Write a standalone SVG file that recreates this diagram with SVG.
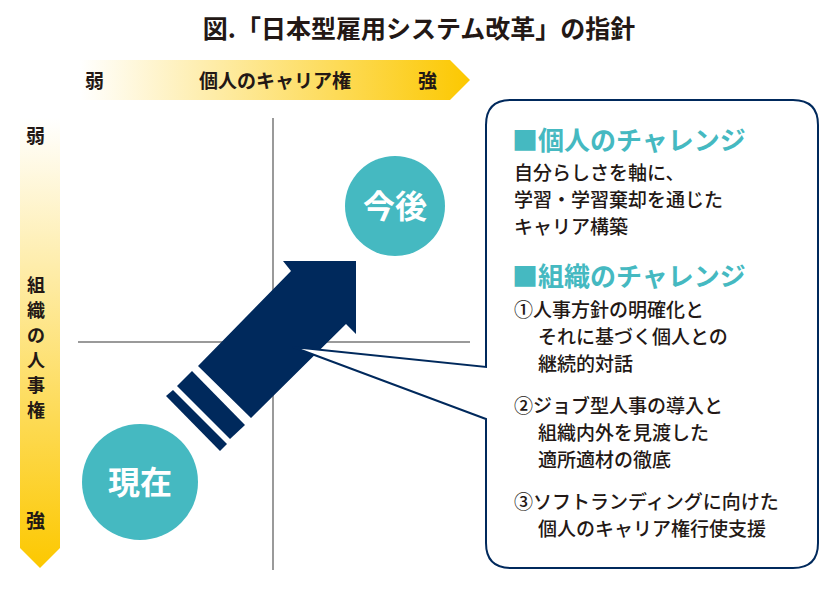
<svg xmlns="http://www.w3.org/2000/svg" width="838" height="590" viewBox="0 0 838 590">
<style>
text{font-family:"Noto Sans CJK JP",sans-serif;fill:#231815}
.b{font-weight:bold}
.ax{stroke:#9a9a9a;stroke-width:2;fill:none}
.hd{font-size:26px;font-weight:bold;fill:#45b9c1}
.t{font-size:19px;font-weight:500}
</style>
<defs>
<linearGradient id="gh" x1="0" y1="0" x2="1" y2="0"><stop offset="0" stop-color="#fff"/><stop offset="1" stop-color="#fcc800"/></linearGradient>
<linearGradient id="gv" x1="0" y1="0" x2="0" y2="1"><stop offset="0" stop-color="#fff"/><stop offset="1" stop-color="#fcc800"/></linearGradient>
</defs>
<rect width="838" height="590" fill="#fff"/>
<text x="419" y="38" text-anchor="middle" class="b" font-size="25">図.「日本型雇用システム改革」の指針</text>
<g id="axis-h"><polygon points="80,60 450,60 470,80 450,100 80,100" fill="url(#gh)"/>
<text x="85" y="88" font-size="19" class="b">弱</text><text x="275" y="88" font-size="19" text-anchor="middle" class="b">個人のキャリア権</text><text x="418" y="88" font-size="19" class="b">強</text></g>
<g id="axis-v"><polygon points="20,118 60,118 60,548 40,568 20,548" fill="url(#gv)"/>
<text x="26" y="143" font-size="19" class="b">弱</text>
<text font-size="18" class="b"><tspan x="27" y="292">組</tspan><tspan x="27" y="317">織</tspan><tspan x="27" y="342">の</tspan><tspan x="27" y="367">人</tspan><tspan x="27" y="392">事</tspan><tspan x="27" y="417">権</tspan></text>
<text x="26" y="528" font-size="19" class="b">強</text></g>
<g id="connectors">
<line class="ax" x1="273" y1="118" x2="273" y2="570"/>
<line class="ax" x1="78" y1="342" x2="470" y2="342"/>
</g>
<g id="now"><circle cx="140" cy="482" r="58" fill="#45b9c1"/><text x="140" y="494" text-anchor="middle" font-size="32" class="b" style="fill:#fff">現在</text></g>
<g id="future"><circle cx="395" cy="206" r="50" fill="#45b9c1"/><text x="395" y="218" text-anchor="middle" font-size="32" class="b" style="fill:#fff">今後</text></g>
<g id="arrow" fill="#00295c">
<polygon points="283,261 356,261 356,334 346,324 251,418 198,366 291,271"/>
<polygon points="177,386 192,371 245,425 230,439"/>
<polygon points="166,396 173,390 227,444 220,451"/>
</g>
<g id="callout">
<path d="M511,100 H793 Q818,100 818,125 V543 Q818,568 793,568 H511 Q486,568 486,543 V419 L293,347 L486,367 V125 Q486,100 511,100 Z" fill="#fff" stroke="#00295c" stroke-width="2"/>
<text x="512" y="150" class="hd">■個人のチャレンジ</text>
<text class="t"><tspan x="514" y="180">自分らしさを軸に、</tspan><tspan x="514" y="207">学習・学習棄却を通じた</tspan><tspan x="514" y="234">キャリア構築</tspan></text>
<text x="512" y="286" class="hd">■組織のチャレンジ</text>
<text class="t"><tspan x="514" y="317">①人事方針の明確化と</tspan><tspan x="538" y="344">それに基づく個人との</tspan><tspan x="538" y="371">継続的対話</tspan>
<tspan x="514" y="413">②ジョブ型人事の導入と</tspan><tspan x="538" y="440">組織内外を見渡した</tspan><tspan x="538" y="467">適所適材の徹底</tspan>
<tspan x="514" y="509">③ソフトランディングに向けた</tspan><tspan x="538" y="536">個人のキャリア権行使支援</tspan></text>
</g>
</svg>
